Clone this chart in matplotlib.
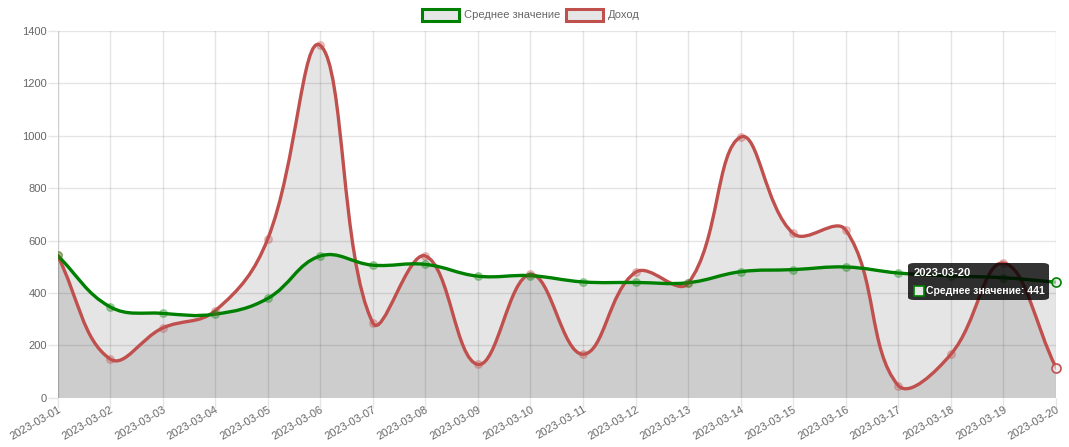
import numpy as np
import matplotlib
matplotlib.use("Agg")
import matplotlib.pyplot as plt
from matplotlib.path import Path
from matplotlib.patches import PathPatch, Rectangle, FancyBboxPatch

# ---- data ----
dates = ["2023-03-01", "2023-03-02", "2023-03-03", "2023-03-04", "2023-03-05",
         "2023-03-06", "2023-03-07", "2023-03-08", "2023-03-09", "2023-03-10",
         "2023-03-11", "2023-03-12", "2023-03-13", "2023-03-14", "2023-03-15",
         "2023-03-16", "2023-03-17", "2023-03-18", "2023-03-19", "2023-03-20"]
avg_values = [543, 347, 322, 319, 379, 541, 506, 509, 464, 466,
              442, 440, 439, 481, 489, 499, 476, 465, 458, 441]
revenue = [543, 148, 266, 332, 606, 1345, 286, 541, 127, 471,
           166, 479, 437, 995, 627, 640, 46, 166, 514, 115]
y_ticks = [0, 200, 400, 600, 800, 1000, 1200, 1400]
series_names = ["Среднее значение", "Доход"]
tooltip_title = "2023-03-20"
tooltip_body = "Среднее значение: 441"

GREEN = "#008000"
RED = "#c0504d"
TXT = "#666666"
FONT = ["Liberation Sans", "DejaVu Sans"]
plt.rcParams["font.family"] = FONT
FS = 8

W, H = 1069, 447
fig = plt.figure(figsize=(W / 100, H / 100), dpi=100)
L, R, T, B = 57.5, 1056, 31, 397.7
ax = fig.add_axes([L / W, 1 - B / H, (R - L) / W, (B - T) / H])
xs = np.arange(len(dates))
ax.set_xlim(0, len(dates) - 1)
ax.set_ylim(0, 1400)

for s in ax.spines.values():
    s.set_visible(False)
ax.set_xticks(xs)
ax.set_xticklabels(dates, rotation=30, ha="right", va="top",
                   rotation_mode="anchor", color=TXT, fontsize=FS)
ax.set_yticks(y_ticks)
ax.set_yticklabels([str(v) for v in y_ticks], color=TXT, fontsize=FS)
ax.tick_params(axis="both", length=7.2, width=1, color="#e6e6e6")
ax.tick_params(axis="x", pad=-2.5)
ax.tick_params(axis="y", pad=0.5)
ax.grid(True, color="black", alpha=0.1, linewidth=1)
ax.set_axisbelow(True)
ax.axhline(0, color="black", alpha=0.22, lw=1, zorder=0.5)
ax.axvline(0, color="black", alpha=0.1, lw=1, zorder=0.5)


def spline_path(vals, tension=0.4):
    tr = ax.transData
    pts = tr.transform(np.column_stack([xs, vals]).astype(float))
    bbox = ax.get_window_extent()
    n = len(pts)
    prev_cp, next_cp = [], []
    for i in range(n):
        p0 = pts[max(i - 1, 0)]
        p1 = pts[i]
        p2 = pts[min(i + 1, n - 1)]
        d01 = np.hypot(*(p1 - p0))
        d12 = np.hypot(*(p2 - p1))
        tot = d01 + d12
        s01 = d01 / tot if tot else 0
        s12 = d12 / tot if tot else 0
        fa, fb = tension * s01, tension * s12
        c1 = p1 - fa * (p2 - p0)
        c2 = p1 + fb * (p2 - p0)
        for c in (c1, c2):
            c[0] = min(max(c[0], bbox.x0), bbox.x1)
            c[1] = min(max(c[1], bbox.y0), bbox.y1)
        prev_cp.append(c1)
        next_cp.append(c2)
    inv = tr.inverted()
    verts = [pts[0]]
    codes = [Path.MOVETO]
    for i in range(n - 1):
        verts += [next_cp[i], prev_cp[i + 1], pts[i + 1]]
        codes += [Path.CURVE4] * 3
    verts = inv.transform(np.array(verts))
    return verts, codes


for vals, col in [(revenue, RED), (avg_values, GREEN)]:
    verts, codes = spline_path(vals)
    fv = np.vstack([verts, [[xs[-1], 0], [xs[0], 0], verts[0]]])
    fc = codes + [Path.LINETO, Path.LINETO, Path.CLOSEPOLY]
    ax.add_patch(PathPatch(Path(fv, fc), facecolor=(0, 0, 0, 0.1),
                           edgecolor="none", zorder=2))
    ax.add_patch(PathPatch(Path(verts, codes), facecolor="none", edgecolor=col,
                           lw=2.4, zorder=3, capstyle="round", joinstyle="round"))
    ax.plot(xs[:-1], vals[:-1], "o", ms=5.5, mfc=matplotlib.colors.to_rgba(col, 0.3),
            mec=matplotlib.colors.to_rgba(col, 0.3), mew=1, zorder=4)
    ax.plot(xs[-1:], vals[-1:], "o", ms=6.5, mfc=(0.9, 0.9, 0.9, 0.6),
            mec=col, mew=1.2, zorder=4, clip_on=False)

# ---- legend ----
def fx(px):
    return px / W


def fy(py):
    return 1 - py / H


leg = [(series_names[0], GREEN, 422), (series_names[1], RED, 566)]
for name, col, x0 in leg:
    fig.patches.append(Rectangle((fx(x0), fy(20.5)), 37 / W, 11.5 / H,
                                 transform=fig.transFigure, facecolor="#e6e6e6",
                                 edgecolor=col, lw=2.2))
    fig.text(fx(x0 + 41.5), fy(14.5), name, color=TXT, fontsize=FS,
             ha="left", va="center")

# ---- tooltip ----
fig.patches.append(FancyBboxPatch((fx(908), fy(300)), 141 / W, 37 / H,
                                  boxstyle="round,pad=0,rounding_size=0.006",
                                  transform=fig.transFigure,
                                  facecolor=(0, 0, 0, 0.8), edgecolor="none",
                                  zorder=10))
fig.text(fx(914), fy(272.5), tooltip_title, color="white", fontsize=FS,
         fontweight="bold", ha="left", va="center", zorder=11)
fig.patches.append(Rectangle((fx(914), fy(296)), 10 / W, 10 / H,
                             transform=fig.transFigure, facecolor="#e6e6e6",
                             edgecolor=GREEN, lw=1.2, zorder=11))
fig.text(fx(926.5), fy(290.5), tooltip_body, color="white", fontsize=7.6,
         fontweight="bold", ha="left", va="center", zorder=11)

fig.savefig("out.png", dpi=100)
